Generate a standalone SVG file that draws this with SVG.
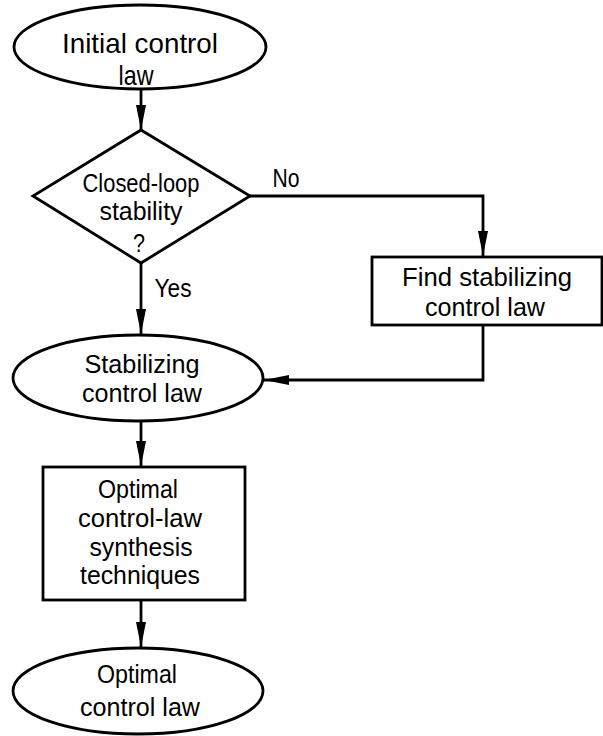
<svg xmlns="http://www.w3.org/2000/svg" width="603" height="736" viewBox="0 0 603 736">
<style>
.shape{fill:#fff;stroke:#000;stroke-width:2.8}
.edge{fill:none;stroke:#000;stroke-width:2.8}
text{font-family:"Liberation Sans",Arial,sans-serif;font-size:26.5px;fill:#000;text-anchor:middle}
text.big{font-size:28px}
</style>
<defs>
<marker id="arr" markerUnits="userSpaceOnUse" markerWidth="26" markerHeight="11" refX="25" refY="5.5" orient="auto">
<path d="M0,0.5 L25,5.5 L0,10.5 Z" fill="#000"/>
</marker>
</defs>
<rect width="603" height="736" fill="#fff"/>
<g id="connectors">
<path class="edge" d="M141,90 V130" marker-end="url(#arr)"/>
<path class="edge" d="M141,263 V334" marker-end="url(#arr)"/>
<path class="edge" d="M250,196 H483 V256" marker-end="url(#arr)"/>
<path class="edge" d="M483,325 V380 H264" marker-end="url(#arr)"/>
<path class="edge" d="M141,422 V466" marker-end="url(#arr)"/>
<path class="edge" d="M141,600 V647" marker-end="url(#arr)"/>
<text x="286" y="187" textLength="27" lengthAdjust="spacingAndGlyphs">No</text>
<text x="173" y="297" textLength="37" lengthAdjust="spacingAndGlyphs">Yes</text>
</g>
<g id="initial">
<ellipse class="shape" cx="140" cy="47" rx="126" ry="42"/>
<text class="big" x="140" y="53" textLength="156" lengthAdjust="spacingAndGlyphs">Initial control</text>
<text class="big" x="136" y="85" textLength="35" lengthAdjust="spacingAndGlyphs">law</text>
</g>
<g id="decision">
<polygon class="shape" points="141,130 250,196 141,263 33,196"/>
<text x="141" y="192" textLength="117" lengthAdjust="spacingAndGlyphs">Closed-loop</text>
<text x="141" y="220" textLength="83" lengthAdjust="spacingAndGlyphs">stability</text>
<text x="139" y="252" textLength="12" lengthAdjust="spacingAndGlyphs">?</text>
</g>
<g id="find">
<rect class="shape" x="372" y="257" width="230" height="68"/>
<text x="487" y="286" textLength="170" lengthAdjust="spacingAndGlyphs">Find stabilizing</text>
<text x="485" y="316" textLength="120" lengthAdjust="spacingAndGlyphs">control law</text>
</g>
<g id="stabilizing">
<ellipse class="shape" cx="138" cy="378" rx="125" ry="43"/>
<text x="142" y="373" textLength="115" lengthAdjust="spacingAndGlyphs">Stabilizing</text>
<text x="142" y="402" textLength="120" lengthAdjust="spacingAndGlyphs">control law</text>
</g>
<g id="synthesis">
<rect class="shape" x="43" y="467" width="202" height="133"/>
<text x="138" y="498" textLength="80" lengthAdjust="spacingAndGlyphs">Optimal</text>
<text x="140" y="527" textLength="124" lengthAdjust="spacingAndGlyphs">control-law</text>
<text x="141" y="556" textLength="103" lengthAdjust="spacingAndGlyphs">synthesis</text>
<text x="140" y="584" textLength="120" lengthAdjust="spacingAndGlyphs">techniques</text>
</g>
<g id="optimal">
<ellipse class="shape" cx="138" cy="691" rx="125" ry="43"/>
<text x="137" y="683" textLength="80" lengthAdjust="spacingAndGlyphs">Optimal</text>
<text x="140" y="716" textLength="120" lengthAdjust="spacingAndGlyphs">control law</text>
</g>
</svg>
